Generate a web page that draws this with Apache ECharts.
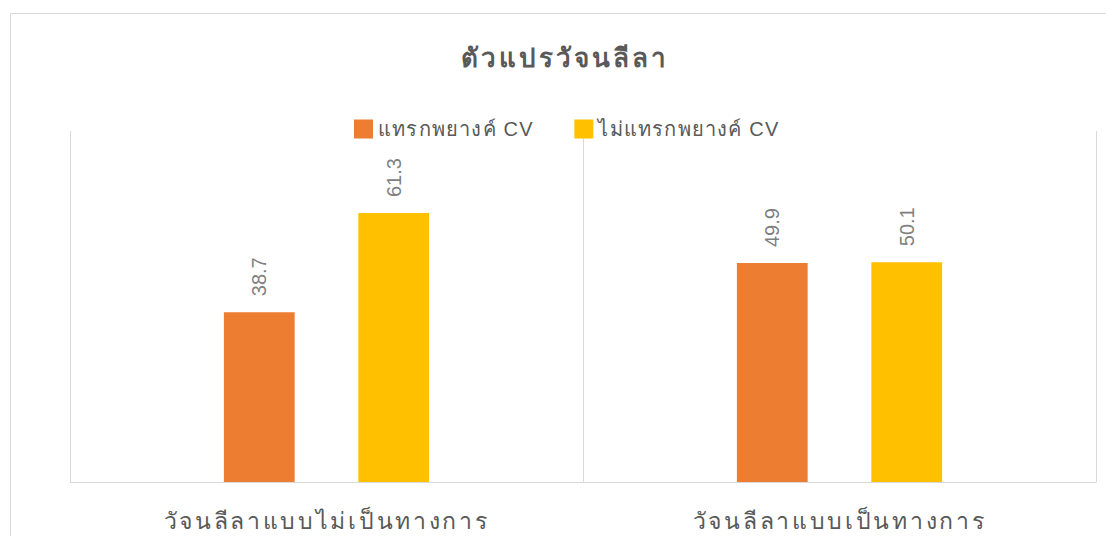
<!DOCTYPE html>
<html><head><meta charset="utf-8">
<script src="https://cdn.jsdelivr.net/npm/echarts@6/dist/echarts.min.js"></script>
<style>
html,body{margin:0;padding:0;background:#fff}
#c{width:1106px;height:536px}
#c text[style*="ThaiTitle"]{letter-spacing:3px}
#c text[style*="ThaiAxis"]{letter-spacing:2.7px}
#c text[style*="ThaiLegend"]{letter-spacing:1.2px}
</style>
</head><body><div id="c"></div>
<script>
const categories = ['วัจนลีลาแบบไม่เป็นทางการ', 'วัจนลีลาแบบเป็นทางการ'];
const seriesNames = ['แทรกพยางค์ CV', 'ไม่แทรกพยางค์ CV'];
const insertCV = [38.7, 49.9];
const noInsertCV = [61.3, 50.1];
const titleText = 'ตัวแปรวัจนลีลา';

const chart = echarts.init(document.getElementById('c'), null, { renderer: 'svg' });
const labelStyle = {
  show: true, position: 'top', rotate: 90, align: 'left', verticalAlign: 'middle',
  distance: 16, color: '#7f7f7f', fontSize: 20, fontFamily: 'Arial, sans-serif',
  formatter: p => p.value.toFixed(1)
};
chart.setOption({
  animation: false,
  color: ['#ED7D31', '#FFC000'],
  graphic: [{ type: 'rect', shape: { x: 10.5, y: 13.5, width: 1200, height: 600 },
    style: { fill: 'none', stroke: '#d9d9d9', lineWidth: 1 }, silent: true }],
  title: { text: titleText, left: 560, top: 40, textAlign: 'center',
    textStyle: { color: '#595959', fontSize: 26, fontWeight: 'bold', fontFamily: 'ThaiTitle, sans-serif' } },
  legend: { data: seriesNames, left: 349, top: 114, itemWidth: 19, itemHeight: 19, itemGap: 55,
    icon: 'rect', textStyle: { color: '#595959', fontSize: 20, fontFamily: 'ThaiLegend, sans-serif' } },
  grid: { left: 70, right: 10, top: 131, bottom: 54 },
  xAxis: { type: 'category', data: categories,
    axisLine: { lineStyle: { color: '#d9d9d9', width: 1 } },
    axisTick: { show: false },
    splitLine: { show: true, lineStyle: { color: '#d9d9d9', width: 1 } },
    axisLabel: { color: '#595959', fontSize: 23, margin: 27, fontFamily: 'ThaiAxis, sans-serif' } },
  yAxis: { type: 'value', min: 0, max: 80, show: false, splitLine: { show: false } },
  series: [
    { name: seriesNames[0], type: 'bar', data: insertCV, barGap: '90%', barCategoryGap: '60%', label: labelStyle },
    { name: seriesNames[1], type: 'bar', data: noInsertCV, barGap: '90%', barCategoryGap: '60%', label: labelStyle }
  ]
});
</script></body></html>
